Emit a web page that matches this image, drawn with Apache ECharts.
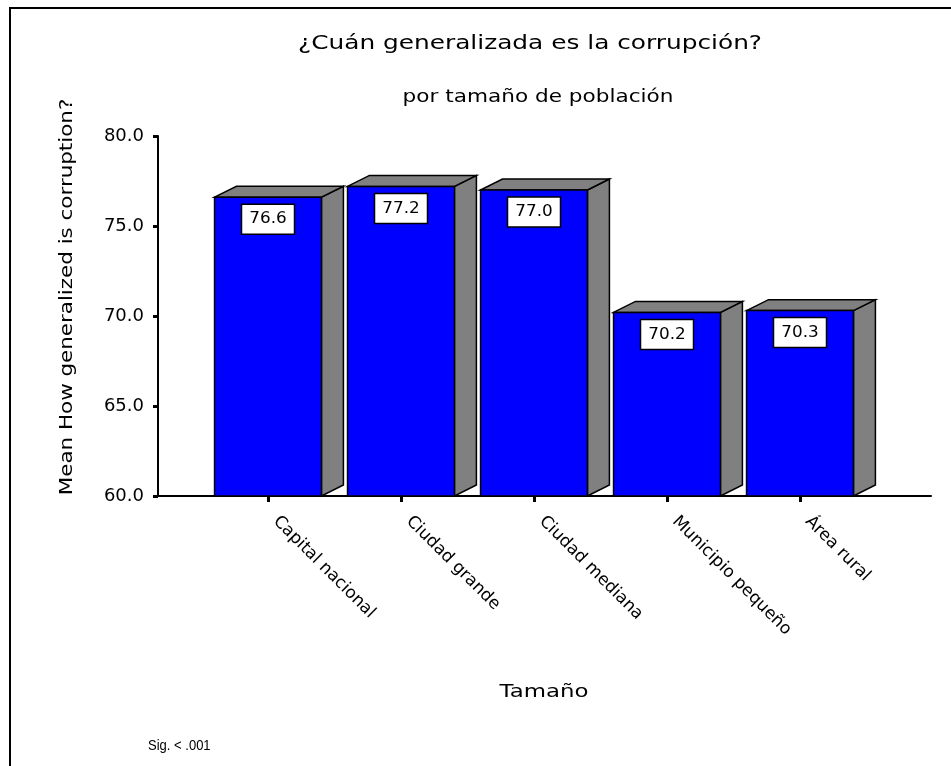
<!DOCTYPE html>
<html>
<head>
<meta charset="utf-8">
<script src="https://cdn.jsdelivr.net/npm/echarts@6/dist/echarts.min.js"></script>
<style>html,body{margin:0;padding:0;background:#fff}#c{width:951px;height:766px}</style>
</head>
<body>
<div id="c"></div>
<script>
const categories = ['Capital nacional', 'Ciudad grande', 'Ciudad mediana', 'Municipio pequeño', 'Área rural'];
const values = [76.6, 77.2, 77.0, 70.2, 70.3];
const yTicks = [60, 65, 70, 75, 80];
const titleText = '¿Cuán generalizada es la corrupción?';
const subtitleText = 'por tamaño de población';
const yName = 'Mean How generalized is corruption?';
const xName = 'Tamaño';
const noteText = 'Sig. < .001';

const FONT = 'DejaVu Sans';
const chart = echarts.init(document.getElementById('c'), null, {renderer: 'canvas'});

const GRID_TOP = 136, GRID_BOTTOM = 270;

function renderBar(params, api) {
  const idx = api.value(0);
  const val = api.value(1);
  const top = api.coord([idx, val]);
  const base = api.coord([idx, yTicks[0]]);
  const band = api.size([1, 0])[0];
  const half = band * 0.402;
  const dx = band * 0.165;
  const dy = dx * 0.5;
  const cx = top[0];
  const x0 = cx - half, x1 = cx + half;
  const yt = top[1], yb = base[1];
  const stroke = {stroke: '#000', lineWidth: 1.5, lineJoin: 'miter'};
  const label = val.toFixed(1);
  return {
    type: 'group',
    children: [
      {type: 'polygon', shape: {points: [[x1, yt], [x1 + dx, yt - dy], [x1 + dx, yb - dy], [x1, yb]]},
       style: Object.assign({fill: '#808080'}, stroke)},
      {type: 'polygon', shape: {points: [[x0, yt], [x0 + dx, yt - dy], [x1 + dx, yt - dy], [x1, yt]]},
       style: Object.assign({fill: '#808080'}, stroke)},
      {type: 'rect', shape: {x: x0, y: yt, width: x1 - x0, height: yb - yt},
       style: Object.assign({fill: '#0000FF'}, stroke)},
      {type: 'rect', shape: {x: cx - 26.5, y: yt + 7, width: 53, height: 30},
       style: {fill: '#fff', stroke: '#000', lineWidth: 1.5}},
      {type: 'text', x: cx, y: yt + 22, scaleX: 1.05,
       style: {text: label, fill: '#000', font: '16px "' + FONT + '"', align: 'center', verticalAlign: 'middle'}}
    ]
  };
}

const option = {
  backgroundColor: '#fff',
  animation: false,
  grid: [
    {left: 158, right: 20, top: GRID_TOP, bottom: GRID_BOTTOM},
    {left: 201.5, right: 84.5, top: GRID_TOP, bottom: GRID_BOTTOM}
  ],
  xAxis: [
    {gridIndex: 0, type: 'value', min: 0, max: 1, axisLine: {show: true, onZero: false, lineStyle: {color: '#000', width: 2}},
     axisTick: {show: false}, axisLabel: {show: false}, splitLine: {show: false}},
    {gridIndex: 1, type: 'category', data: categories, boundaryGap: true,
     axisLine: {show: false}, axisTick: {show: true, alignWithLabel: true, length: 6, lineStyle: {color: '#000', width: 3}},
     axisLabel: {rotate: -45, margin: 15, padding: [0, 0, 0, 11], color: '#000', fontFamily: FONT, fontSize: 17},
     splitLine: {show: false}}
  ],
  yAxis: [
    {gridIndex: 0, type: 'value', min: yTicks[0], max: yTicks[yTicks.length - 1], interval: 5,
     axisLine: {show: true, lineStyle: {color: '#000', width: 2}},
     axisTick: {show: true, length: 5, lineStyle: {color: '#000', width: 3}},
     axisLabel: {color: '#000', fontFamily: FONT, fontSize: 18, margin: 14, formatter: v => v.toFixed(1)},
     splitLine: {show: false}},
    {gridIndex: 1, type: 'value', min: yTicks[0], max: yTicks[yTicks.length - 1], interval: 5, show: false}
  ],
  series: [{
    type: 'custom', xAxisIndex: 1, yAxisIndex: 1,
    data: values.map((v, i) => [i, v]),
    renderItem: renderBar, clip: false
  }],
  graphic: [
    {type: 'rect', shape: {x: 10, y: 8, width: 1200, height: 1200}, style: {fill: 'none', stroke: '#000', lineWidth: 2}, silent: true},
    {type: 'text', x: 530, y: 44, scaleX: 1.24, style: {text: titleText, font: '20px "' + FONT + '"', fill: '#000', align: 'center', verticalAlign: 'middle'}},
    {type: 'text', x: 538, y: 98, scaleX: 1.27, style: {text: subtitleText, font: '17px "' + FONT + '"', fill: '#000', align: 'center', verticalAlign: 'middle'}},
    {type: 'text', x: 67, y: 297, rotation: Math.PI / 2, scaleX: 1.19, style: {text: yName, font: '18px "' + FONT + '"', fill: '#000', align: 'center', verticalAlign: 'middle'}},
    {type: 'text', x: 544, y: 692, scaleX: 1.27, style: {text: xName, font: '18px "' + FONT + '"', fill: '#000', align: 'center', verticalAlign: 'middle'}},
    {type: 'text', x: 148, y: 746, scaleX: 0.93, style: {text: noteText, font: '14px "Liberation Sans"', fill: '#000', align: 'left', verticalAlign: 'middle'}}
  ]
};
chart.setOption(option);
</script>
</body>
</html>
